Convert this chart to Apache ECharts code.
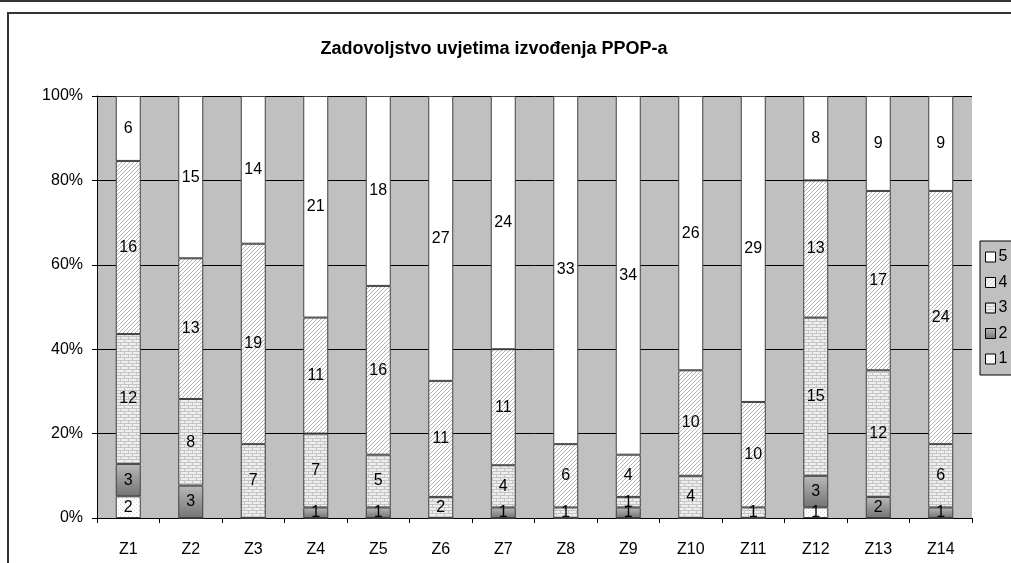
<!DOCTYPE html>
<html>
<head>
<meta charset="utf-8">
<script src="https://cdn.jsdelivr.net/npm/echarts@6/dist/echarts.min.js"></script>
<style>
html,body{margin:0;padding:0;background:#fff;}
#c{width:1011px;height:563px;}
</style>
</head>
<body>
<div id="c"></div>
<script>
var categories = ['Z1','Z2','Z3','Z4','Z5','Z6','Z7','Z8','Z9','Z10','Z11','Z12','Z13','Z14'];
var seriesNames = ['1','2','3','4','5'];
var counts1 = [2,0,0,0,0,0,0,0,0,0,0,1,0,0];
var counts2 = [3,3,0,1,1,0,1,0,1,0,0,3,2,1];
var counts3 = [12,8,7,7,5,2,4,1,1,4,1,15,12,6];
var counts4 = [16,13,19,11,16,11,11,6,4,10,10,13,17,24];
var counts5 = [6,15,14,21,18,27,24,33,34,26,29,8,9,9];
var yTicks = [0,20,40,60,80,100];

var allCounts = [counts1, counts2, counts3, counts4, counts5];
var totals = categories.map(function(_, i){
  return allCounts.reduce(function(s, arr){ return s + arr[i]; }, 0);
});

function makeCanvas(w, h, draw){
  var c = document.createElement('canvas');
  c.width = w; c.height = h;
  var ctx = c.getContext('2d');
  draw(ctx);
  return c;
}
var dotPattern = makeCanvas(4, 4, function(ctx){
  ctx.fillStyle = '#ffffff'; ctx.fillRect(0,0,4,4);
  ctx.fillStyle = '#d8d8d8'; ctx.fillRect(0,0,1,1); ctx.fillRect(2,2,1,1);
});
var brickPattern = makeCanvas(8, 6, function(ctx){
  ctx.fillStyle = '#eeeeee'; ctx.fillRect(0,0,8,6);
  ctx.fillStyle = '#c4c4c4';
  ctx.fillRect(0,0,8,1);
  ctx.fillRect(0,1,1,2);
  ctx.fillRect(0,3,8,1);
  ctx.fillRect(4,4,1,2);
});
var hatchPattern = makeCanvas(4, 4, function(ctx){
  ctx.fillStyle = '#ffffff'; ctx.fillRect(0,0,4,4);
  ctx.fillStyle = '#b4b4b4';
  ctx.fillRect(3,0,1,1); ctx.fillRect(2,1,1,1); ctx.fillRect(1,2,1,1); ctx.fillRect(0,3,1,1);
});
var fills = [
  {image: dotPattern, repeat: 'repeat'},
  new echarts.graphic.LinearGradient(0,0,0,1,[{offset:0,color:'#b8b8b8'},{offset:1,color:'#747474'}]),
  {image: brickPattern, repeat: 'repeat'},
  {image: hatchPattern, repeat: 'repeat'},
  '#ffffff'
];

var series = seriesNames.map(function(name, si){
  var arr = allCounts[si];
  return {
    name: name,
    type: 'bar',
    stack: 'total',
    barWidth: '40%',
    itemStyle: {color: fills[si], borderColor: '#404040', borderWidth: 1},
    label: {
      show: true, position: 'inside', color: '#000',
      fontFamily: 'Liberation Sans', fontSize: 16,
      formatter: function(p){ return arr[p.dataIndex] > 0 ? String(arr[p.dataIndex]) : ''; }
    },
    emphasis: {disabled: true},
    data: arr.map(function(v, i){ return v / totals[i] * 100; })
  };
});

var chart = echarts.init(document.getElementById('c'), null, {renderer: 'canvas'});
chart.setOption({
  animation: false,
  backgroundColor: '#ffffff',
  textStyle: {fontFamily: 'Liberation Sans'},
  title: {
    text: 'Zadovoljstvo uvjetima izvođenja PPOP-a',
    left: 489, top: 35, textAlign: 'center',
    textStyle: {fontFamily: 'Liberation Sans', fontWeight: 'bold', fontSize: 18, color: '#000'}
  },
  legend: {
    data: ['5','4','3','2','1'],
    orient: 'vertical',
    left: 980, top: 241,
    itemWidth: 10, itemHeight: 10, itemGap: 9.5,
    icon: 'rect',
    padding: [8, 10, 8, 5],
    backgroundColor: '#c0c0c0',
    borderColor: '#000', borderWidth: 1,
    textStyle: {fontFamily: 'Liberation Sans', fontSize: 16, color: '#000', padding: [0,0,0,-2]},
    itemStyle: {borderColor: '#000', borderWidth: 1}
  },
  grid: {
    left: 97, right: 39, top: 96, bottom: 45,
    show: true, backgroundColor: '#c0c0c0', borderWidth: 0
  },
  xAxis: {
    type: 'category',
    data: categories,
    axisLine: {lineStyle: {color: '#000', width: 1}},
    axisTick: {show: true, length: 5, lineStyle: {color: '#000'}},
    axisLabel: {color: '#000', fontSize: 16, fontFamily: 'Liberation Sans', margin: 24}
  },
  yAxis: {
    type: 'value',
    min: yTicks[0], max: yTicks[yTicks.length-1], interval: 20,
    axisLine: {show: true, lineStyle: {color: '#000', width: 1}},
    axisTick: {show: true, length: 5, lineStyle: {color: '#000'}},
    axisLabel: {color: '#000', fontSize: 16, fontFamily: 'Liberation Sans', margin: 14,
      formatter: function(v){ return v + '%'; }},
    splitLine: {show: true, lineStyle: {color: '#000', width: 1}}
  },
  graphic: [
    {type: 'rect', shape: {x: 0, y: 0, width: 1011, height: 2}, style: {fill: '#333'}, silent: true},
    {type: 'rect', shape: {x: 7, y: 12, width: 1004, height: 2}, style: {fill: '#333'}, silent: true},
    {type: 'rect', shape: {x: 7, y: 12, width: 2, height: 551}, style: {fill: '#333'}, silent: true}
  ],
  series: series
});
</script>
</body>
</html>
